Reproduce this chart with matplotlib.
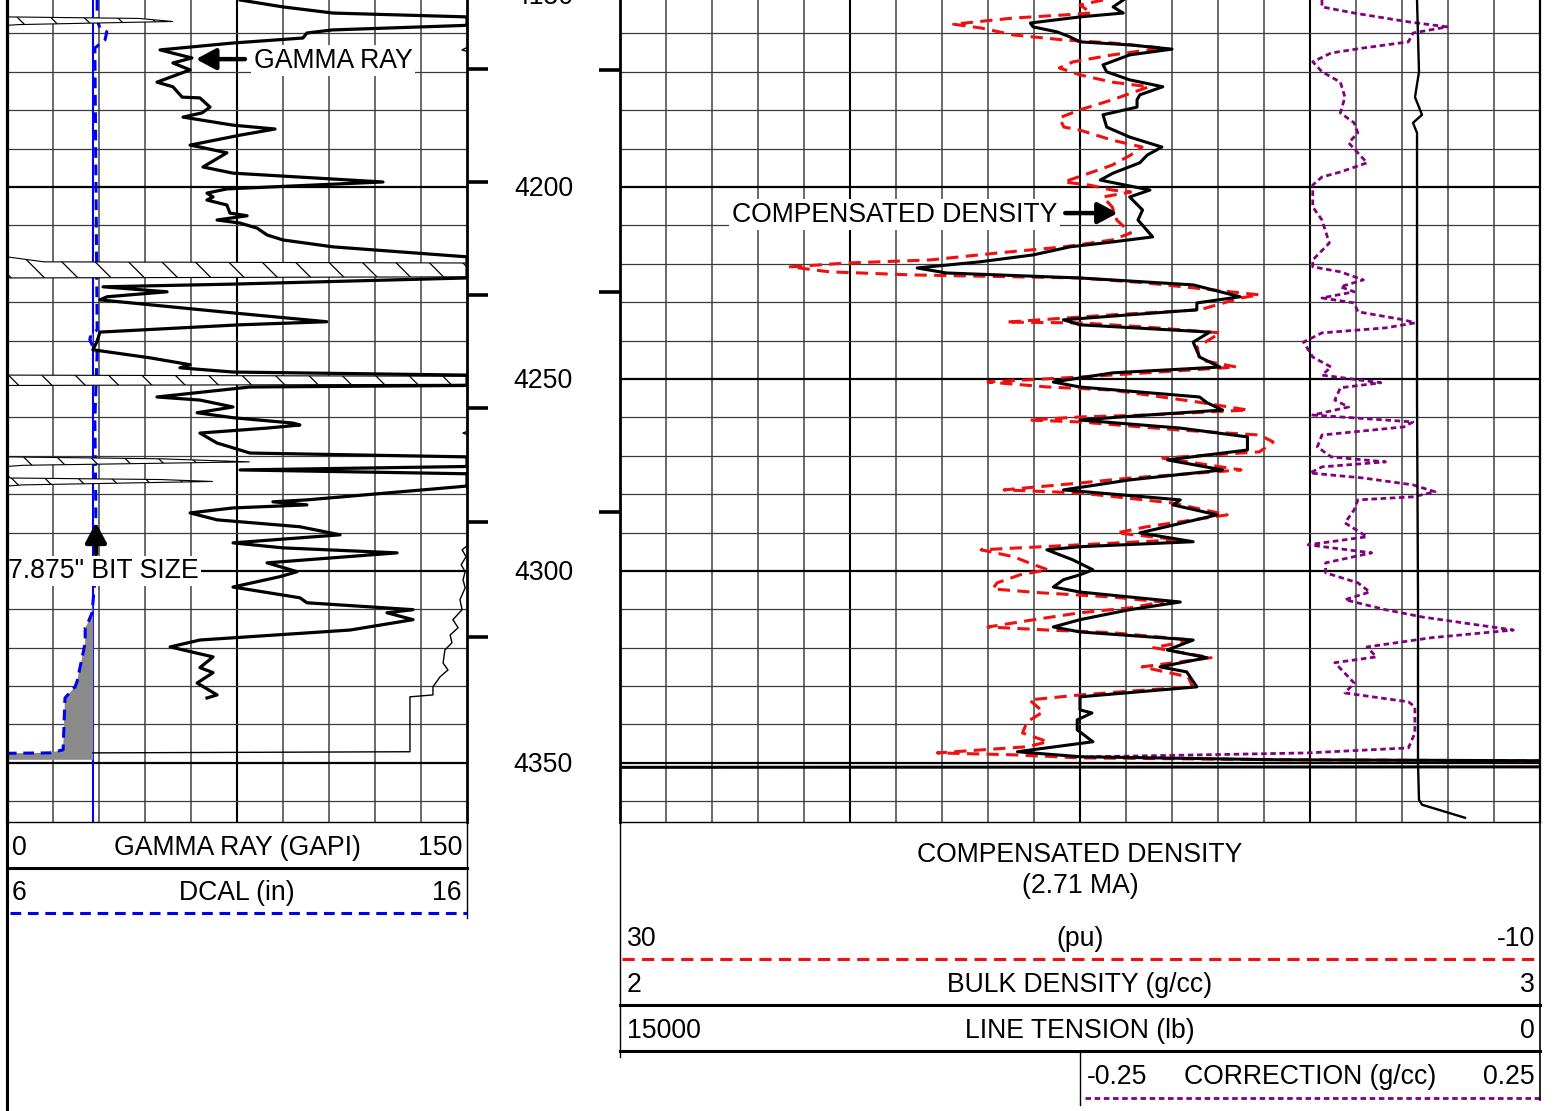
import matplotlib
matplotlib.use('Agg')
import matplotlib.pyplot as plt
import numpy as np

plt.rcParams['font.family'] = ['Liberation Sans', 'DejaVu Sans']
plt.rcParams['hatch.linewidth'] = 0.9
plt.rcParams['hatch.color'] = 'black'
plt.rcParams['lines.solid_joinstyle'] = 'round'
plt.rcParams['lines.dash_joinstyle'] = 'round'

# ---------------- data ----------------
depth_top, depth_bottom = 4151.3, 4365.4
depth_labels = [4150, 4200, 4250, 4300, 4350]
grid_depths = list(range(4160, 4361, 10))

gr_scale = (0, 150)
cal_scale = (6, 16)
nphi_scale = (30, -10)
rhob_scale = (2, 3)
tens_scale = (15000, 0)
corr_scale = (-0.25, 0.25)
bit_size = 7.875

# gamma ray (depth ft, GAPI); values above 150 wrap around
gr_log = [(4151.3, 76.0), (4153.1, 90.0), (4154.7, 106.3), (4155.7, 150), (4156.1, 193), (4156.9, 204),
          (4157.7, 154), (4157.9, 150), (4159.1, 106), (4159.9, 97.8), (4161.2, 96.5), (4162.5, 73.7),
          (4164.3, 49.9), (4166.4, 60.3), (4167.7, 54.1), (4169.5, 59.7), (4172.7, 48.9), (4173.9, 54.1),
          (4176.6, 57.1), (4176.8, 62.9), (4179.2, 66.2), (4180.7, 63.6), (4181.8, 57.4), (4183.9, 73.7),
          (4184.9, 87.4), (4186.5, 76.0), (4189.1, 59.7), (4189.6, 62.9), (4191.1, 71.7), (4194.8, 63.9),
          (4196.4, 73.7), (4198.7, 122.6), (4200.5, 71.7), (4201.6, 65.2), (4202.6, 67.2), (4203.4, 65.2),
          (4204.7, 71.7), (4206.8, 72.7), (4207.5, 78.3), (4208.6, 68.5), (4209.4, 76.0), (4210.7, 81.5),
          (4212.5, 84.8), (4213.8, 90.0), (4215.6, 106.3), (4218.2, 150), (4219.5, 162), (4219.8, 310),
          (4223.4, 310), (4223.7, 150), (4225.3, 73.7), (4226.0, 31.3), (4227.3, 52.2), (4228.6, 32.6),
          (4229.4, 30.3), (4232.8, 73.7), (4235.1, 104.3), (4235.9, 76.0), (4237.8, 30.3), (4240.4, 29.3),
          (4242.4, 28.0), (4244.5, 46.6), (4246.3, 59.7), (4247.1, 56.4), (4248.2, 73.7), (4249.0, 150),
          (4249.3, 310), (4251.4, 310), (4251.7, 150), (4252.1, 79.2), (4254.7, 48.9), (4255.5, 62.9),
          (4257.3, 73.7), (4258.8, 62.0), (4260.1, 73.7), (4261.5, 93.3), (4262.0, 95.5), (4262.8, 84.8),
          (4264.1, 62.9), (4266.7, 68.5), (4267.7, 72.7), (4269.3, 79.2), (4270.3, 150), (4270.8, 200),
          (4271.6, 229), (4272.5, 155), (4272.8, 150), (4273.7, 76), (4274.7, 150), (4275.8, 151),
          (4276.2, 200), (4276.7, 217), (4277.6, 155), (4277.9, 150), (4281.5, 97.8), (4282.0, 86.7),
          (4282.8, 97.8), (4283.6, 73.7), (4284.9, 59.7), (4286.7, 68.5), (4288.5, 95.5), (4290.6, 108.6),
          (4292.7, 73.7), (4294.0, 90.0), (4295.3, 127.2), (4297.9, 84.8), (4300.2, 94.6), (4301.5, 89.0),
          (4304.2, 73.7), (4307.0, 95.5), (4308.3, 97.8), (4310.1, 132.4), (4310.9, 123.9), (4312.7, 132.4),
          (4315.4, 111.9), (4318.0, 62.9), (4319.8, 53.2), (4322.4, 67.2), (4325.2, 62.9), (4326.5, 67.2),
          (4329.2, 62.0), (4332.3, 68.5), (4333.1, 65.2)]

# thin auxiliary curve in the gamma ray track (same scale, mostly off scale)
aux_log = [(4161.7, 155), (4164.3, 148.4), (4165.9, 155), (4262.0, 155), (4264.1, 148.7), (4265.9, 155),
           (4273.2, 155), (4274.5, 149.4), (4275.8, 155), (4293.2, 150.5), (4294.5, 148.4), (4296.3, 149.7),
           (4298.4, 148.1), (4300.2, 149.4), (4302.3, 148.7), (4304.4, 149.4), (4307.5, 147.7), (4310.1, 148.4),
           (4312.7, 145.4), (4314.8, 147.1), (4316.7, 144.5), (4318.7, 145.1), (4320.6, 142.8), (4324.0, 142.2),
           (4325.8, 143.8), (4327.6, 141.2), (4330.2, 138.9), (4332.3, 138.9), (4332.8, 131.4), (4347.1, 131.4),
           (4347.4, 28.0)]

# caliper (depth, in)
cal_log = [(4151.3, 7.96), (4156.5, 7.96), (4158.6, 8.02), (4159.6, 8.17), (4161.7, 8.13), (4163.8, 7.91),
           (4237.2, 7.96), (4238.5, 7.82), (4239.8, 7.80), (4241.9, 7.88), (4243.0, 7.96), (4260.7, 7.91),
           (4281.5, 7.93), (4297.1, 7.93), (4302.3, 7.91), (4310.9, 7.85), (4313.5, 7.76), (4314.8, 7.70),
           (4318.7, 7.70), (4325.0, 7.59), (4328.9, 7.52), (4330.2, 7.48), (4333.1, 7.26), (4346.6, 7.22),
           (4347.4, 6.93), (4347.5, 6.0), (4349.2, 6.0)]

# bulk density (depth, g/cc)
rhob_log = [(4151.3, 2.547), (4153.1, 2.536), (4154.7, 2.547), (4155.7, 2.500), (4157.3, 2.446), (4158.3, 2.449),
            (4159.6, 2.475), (4160.9, 2.489), (4162.2, 2.500), (4163.0, 2.554), (4164.1, 2.600), (4165.6, 2.554),
            (4168.2, 2.525), (4170.0, 2.529), (4172.1, 2.554), (4173.9, 2.590), (4176.0, 2.565), (4177.3, 2.562),
            (4179.2, 2.562), (4181.2, 2.525), (4184.4, 2.529), (4187.0, 2.554), (4189.6, 2.589), (4191.7, 2.573),
            (4193.7, 2.565), (4196.4, 2.536), (4198.2, 2.522), (4200.8, 2.576), (4202.6, 2.554), (4206.0, 2.568),
            (4208.6, 2.563), (4213.0, 2.579), (4214.3, 2.536), (4215.6, 2.489), (4217.7, 2.449), (4219.5, 2.391),
            (4221.1, 2.323), (4222.4, 2.355), (4223.7, 2.500), (4225.5, 2.623), (4228.6, 2.674), (4230.2, 2.627),
            (4232.0, 2.627), (4233.3, 2.554), (4234.6, 2.482), (4235.9, 2.500), (4237.8, 2.641), (4240.4, 2.623),
            (4244.3, 2.630), (4246.9, 2.652), (4248.4, 2.536), (4250.8, 2.471), (4252.1, 2.500), (4254.7, 2.630),
            (4256.2, 2.638), (4258.1, 2.655), (4259.4, 2.573), (4260.7, 2.500), (4262.8, 2.609), (4265.1, 2.682),
            (4268.5, 2.682), (4271.1, 2.595), (4273.7, 2.655), (4276.3, 2.554), (4278.9, 2.482), (4281.5, 2.609),
            (4282.8, 2.601), (4285.4, 2.649), (4290.1, 2.565), (4292.4, 2.623), (4293.7, 2.500), (4294.5, 2.464),
            (4297.1, 2.492), (4299.7, 2.514), (4301.0, 2.500), (4302.3, 2.482), (4304.2, 2.471), (4305.5, 2.500),
            (4308.1, 2.609), (4310.1, 2.554), (4312.7, 2.500), (4314.6, 2.471), (4315.9, 2.500), (4318.0, 2.623),
            (4320.6, 2.595), (4322.6, 2.638), (4325.0, 2.587), (4326.3, 2.616), (4330.2, 2.627), (4332.8, 2.500),
            (4336.2, 2.500), (4337.0, 2.513), (4338.8, 2.497), (4341.4, 2.497), (4344.5, 2.514), (4347.1, 2.432),
            (4348.4, 2.500), (4349.2, 2.717), (4349.7, 3.300), (4351.0, 3.300), (4351.2, 1.700)]

# neutron porosity, limestone-matrix (depth, pu)
nphi_log = [(4151.3, 9.0), (4152.6, 10.0), (4154.7, 9.5), (4155.2, 10.7), (4156.0, 12.9), (4157.6, 15.5),
            (4158.6, 14.3), (4160.4, 12.9), (4161.7, 10.7), (4162.5, 8.6), (4163.8, 6.4), (4165.6, 8.6),
            (4167.4, 10.3), (4169.0, 10.9), (4170.8, 10.0), (4172.7, 8.6), (4173.9, 7.0), (4177.3, 8.6),
            (4179.9, 10.0), (4182.0, 10.9), (4184.4, 10.7), (4185.2, 10.0), (4187.8, 8.6), (4189.6, 7.3),
            (4191.7, 7.8), (4194.3, 8.6), (4196.4, 9.6), (4198.7, 10.7), (4199.5, 9.6), (4200.8, 8.6),
            (4201.3, 7.8), (4202.6, 9.0), (4205.2, 8.6), (4208.6, 8.4), (4212.0, 7.8), (4213.8, 8.6),
            (4215.6, 10.7), (4217.2, 13.6), (4219.0, 16.5), (4219.8, 20.1), (4220.8, 22.6), (4222.1, 20.9),
            (4222.9, 17.3), (4223.4, 12.9), (4223.7, 10.0), (4225.0, 7.1), (4228.1, 2.2), (4228.9, 3.0),
            (4232.0, 4.8), (4233.3, 8.6), (4235.2, 13.2), (4235.4, 10.0), (4236.5, 7.1), (4238.0, 3.9),
            (4241.7, 4.9), (4245.0, 4.8), (4246.9, 3.2), (4248.4, 7.1), (4249.5, 10.0), (4250.8, 14.0),
            (4252.1, 11.4), (4252.9, 8.6), (4256.0, 4.9), (4258.1, 2.7), (4259.4, 7.1), (4259.9, 10.0),
            (4260.7, 12.2), (4261.2, 10.0), (4263.3, 5.7), (4264.6, 2.2), (4266.4, 1.6), (4269.0, 2.2),
            (4270.6, 6.4), (4273.7, 3.0), (4275.8, 7.8), (4277.1, 10.0), (4278.9, 13.3), (4279.7, 10.0),
            (4282.3, 6.0), (4285.4, 3.6), (4288.5, 7.1), (4290.1, 8.4), (4291.9, 5.7), (4293.2, 10.0),
            (4294.5, 14.3), (4296.3, 12.9), (4298.4, 12.0), (4299.7, 11.4), (4301.0, 12.6), (4303.1, 13.6),
            (4304.7, 13.8), (4305.7, 11.7), (4306.8, 8.6), (4308.1, 6.4), (4309.6, 7.8), (4310.9, 10.0),
            (4312.7, 12.0), (4314.6, 14.0), (4315.4, 11.4), (4316.1, 8.6), (4318.0, 5.1), (4320.0, 6.8),
            (4322.6, 4.3), (4325.0, 7.3), (4327.6, 5.3), (4330.2, 5.1), (4331.0, 7.1), (4332.3, 10.0),
            (4333.6, 12.2), (4336.7, 11.6), (4339.3, 12.3), (4342.2, 12.5), (4344.5, 11.4), (4345.8, 12.3),
            (4347.4, 16.2), (4347.9, 12.9), (4348.7, 10.0), (4349.2, 0.9), (4349.5, -10.9)]

# density correction (depth, g/cc)
corr_log = [(4151.3, 0.013), (4153.1, 0.013), (4154.7, 0.048), (4157.0, 0.107), (4158.3, 0.149), (4159.9, 0.112),
            (4162.2, 0.107), (4163.8, 0.058), (4165.1, 0.023), (4167.4, 0.003), (4170.0, 0.013), (4172.7, 0.033),
            (4176.6, 0.038), (4180.7, 0.033), (4183.3, 0.048), (4185.9, 0.052), (4188.5, 0.042), (4193.7, 0.062),
            (4196.1, 0.033), (4197.4, 0.013), (4199.5, 0.003), (4205.2, 0.003), (4208.6, 0.013), (4214.6, 0.021),
            (4219.0, 0.003), (4220.8, 0.003), (4222.1, 0.033), (4224.2, 0.058), (4226.0, 0.033), (4227.3, 0.048),
            (4228.9, 0.013), (4230.2, 0.048), (4232.5, 0.052), (4234.6, 0.102), (4235.4, 0.114), (4236.7, 0.082),
            (4238.0, 0.013), (4240.4, -0.007), (4244.3, 0.003), (4246.9, 0.023), (4249.0, 0.013), (4251.0, 0.077),
            (4252.3, 0.033), (4255.5, 0.027), (4257.3, 0.042), (4259.4, 0.003), (4261.2, 0.112), (4262.5, 0.102),
            (4264.6, 0.013), (4267.7, 0.008), (4270.3, 0.023), (4271.6, 0.082), (4272.9, 0.013), (4274.5, 0.0),
            (4275.8, 0.058), (4277.6, 0.112), (4279.4, 0.136), (4280.7, 0.112), (4281.5, 0.052), (4284.1, 0.048),
            (4287.5, 0.038), (4291.1, 0.062), (4293.2, -0.002), (4295.3, 0.067), (4297.9, 0.017), (4300.5, 0.017),
            (4303.1, 0.052), (4305.5, 0.065), (4307.5, 0.038), (4310.1, 0.082), (4312.0, 0.122), (4315.4, 0.221),
            (4317.4, 0.132), (4319.8, 0.062), (4322.4, 0.072), (4323.9, 0.027), (4329.2, 0.048), (4331.8, 0.038),
            (4334.1, 0.107), (4335.4, 0.114), (4342.2, 0.114), (4346.1, 0.107), (4347.4, -0.002), (4347.9, -0.115),
            (4348.4, -0.239)]

# line tension (depth, lb)
tens_log = [(4151.3, 2005), (4170.0, 1973), (4176.6, 2038), (4181.2, 1924), (4183.3, 2071), (4185.9, 2005),
            (4212.0, 2005), (4255.5, 2005), (4307.5, 1989), (4350.0, 1989), (4359.6, 1973), (4360.9, 1924),
            (4364.3, 1223)]

# tick marks in the depth track
marks_left = [4169.3, 4198.7, 4228.1, 4257.5, 4287.2, 4317.2]
marks_right = [4169.5, 4227.3, 4284.6]


def unzip(log):
    a = np.array(log, dtype=float)
    return a[:, 0], a[:, 1]


gr_d, gr_v = unzip(gr_log)
aux_d, aux_v = unzip(aux_log)
cal_d, cal_v = unzip(cal_log)
rhob_d, rhob_v = unzip(rhob_log)
nphi_d, nphi_v = unzip(nphi_log)
corr_d, corr_v = unzip(corr_log)
tens_d, tens_v = unzip(tens_log)

# ---------------- figure ----------------
W, H = 1554, 1111
TRACK_Y1 = 822
fig = plt.figure(figsize=(W / 100, H / 100), dpi=100)
FS = 19.2
RED = '#f01010'
PURPLE = '#800080'
BLUE = '#0000ee'
TXT_DY = 2  # px, optical centring of caps text


def make_ax(x0, x1, xlim, base=False):
    ax = fig.add_axes([x0 / W, 1 - TRACK_Y1 / H, (x1 - x0) / W, TRACK_Y1 / H])
    ax.set_xlim(*xlim)
    ax.set_ylim(depth_bottom, depth_top)
    ax.set_xticks([])
    ax.set_yticks([])
    for s in ax.spines.values():
        s.set_visible(False)
    if not base:
        ax.patch.set_visible(False)
    return ax


def draw_grid(ax, ndiv, major_every):
    for i in range(1, ndiv):
        major = (i % major_every == 0)
        ax.axvline(i / ndiv, color='black' if major else '#6a6a6a',
                   lw=1.5 if major else 1.4, zorder=1)
    for d in grid_depths:
        major = (d % 50 == 0)
        ax.axhline(d, color='black' if major else '#3a3a3a',
                   lw=1.6 if major else 0.9, zorder=1)


def frame(ax, left, right, bottom):
    for name, lw in (('left', left), ('right', right), ('bottom', bottom)):
        sp = ax.spines[name]
        sp.set_visible(True)
        sp.set_linewidth(lw)
        sp.set_zorder(10)


ARROW = dict(arrowstyle='-|>,head_length=0.6,head_width=0.32', lw=3.2,
             color='black', shrinkA=0, shrinkB=0, mutation_scale=20)

# ---- left track: gamma ray + caliper ----
axL0 = make_ax(7, 467, (0, 1), base=True)
draw_grid(axL0, 10, 5)

axC = make_ax(7, 467, cal_scale)
axC.axvline(bit_size, color='#0000ff', lw=1.5, zorder=2)
axC.fill_betweenx(cal_d, cal_v, bit_size, where=cal_v < bit_size, interpolate=True,
                  color='#8a8a8a', lw=0, zorder=2)
axC.plot(cal_v, cal_d, color=BLUE, lw=2.2, dashes=(3.5, 2.2), zorder=3)

axG = make_ax(7, 467, gr_scale)
wrap = np.clip(gr_v - gr_scale[1], 0, gr_scale[1])
axG.fill_betweenx(gr_d, 0, wrap, facecolor='white', edgecolor='black', hatch='\\',
                  lw=0.8, zorder=2)
axG.plot(aux_v, aux_d, color='black', lw=1.0, zorder=3)
axG.plot(np.minimum(gr_v, gr_scale[1]), gr_d, color='black', lw=2.3, zorder=4)
frame(axG, 2.3, 2.0, 1.0)

axG.annotate('', xy=(61.6, 4166.7), xytext=(77.6, 4166.7), arrowprops=ARROW, zorder=6)
axG.text(80.5, 4167.1, 'GAMMA RAY', ha='left', va='center', fontsize=FS, zorder=6,
         bbox=dict(facecolor='white', edgecolor='none', pad=2))
axG.annotate('', xy=(29.0, 4287.4), xytext=(29.0, 4295.6), arrowprops=ARROW, zorder=6)
axG.text(0.4, 4300.1, '7.875" BIT SIZE', ha='left', va='center', fontsize=FS, zorder=6,
         bbox=dict(facecolor='white', edgecolor='none', pad=1.5))

# ---- depth track ----
axD = make_ax(467, 620, (0, 1))
for d in depth_labels:
    axD.text(0.5, d + 0.5, str(d), ha='center', va='center', fontsize=FS, clip_on=False)
for d in marks_left:
    axD.plot([0, 0.14], [d, d], color='black', lw=2.6, solid_capstyle='butt')
for d in marks_right:
    axD.plot([0.86, 1.0], [d, d], color='black', lw=2.6, solid_capstyle='butt')

# ---- right track: density, neutron, tension, correction ----
axR0 = make_ax(620, 1540, (0, 1), base=True)
draw_grid(axR0, 20, 5)

axK = make_ax(620, 1540, (2 * corr_scale[0] - corr_scale[1], corr_scale[1]))
axK.plot(corr_v, corr_d, color=PURPLE, lw=2.0, dashes=(2.0, 1.3), zorder=3)

axT = make_ax(620, 1540, tens_scale)
axT.plot(tens_v, tens_d, color='black', lw=1.7, zorder=3)

axN = make_ax(620, 1540, nphi_scale)
axN.plot(nphi_v, nphi_d, color=RED, lw=2.2, dashes=(4.0, 2.4), zorder=3)

axB = make_ax(620, 1540, rhob_scale)
axB.plot(rhob_v, rhob_d, color='black', lw=2.2, zorder=4)
frame(axB, 2.0, 1.6, 1.0)

axB.annotate('', xy=(2.541, 4206.8), xytext=(2.484, 4206.8), arrowprops=ARROW, zorder=6)
axB.text(2.475, 4207.2, 'COMPENSATED DENSITY', ha='right', va='center', fontsize=FS, zorder=6,
         bbox=dict(facecolor='white', edgecolor='none', pad=2))

# ---- header (scales) ----
axH = fig.add_axes([0, 0, 1, 1])
axH.set_xlim(0, W)
axH.set_ylim(H, 0)
axH.axis('off')
axH.patch.set_visible(False)


def fmt(v):
    return f'{v:g}'


def hline(x0, x1, y, **kw):
    axH.plot([x0, x1], [y, y], **kw)


def vline(x, y0, y1, **kw):
    axH.plot([x, x], [y0, y1], **kw)


def htext(x, y, s, ha):
    axH.text(x, y + TXT_DY, s, ha=ha, va='center', fontsize=FS)


def scale_row(y, xl, xc, xr, lo, hi, title):
    htext(xl, y, fmt(lo), 'left')
    htext(xc, y, title, 'center')
    htext(xr, y, fmt(hi), 'right')


vline(7, TRACK_Y1, H, color='black', lw=2.2)
scale_row(846, 12, 237, 462, gr_scale[0], gr_scale[1], 'GAMMA RAY (GAPI)')
hline(7, 467, 868, color='black', lw=2.2)
scale_row(891, 12, 237, 462, cal_scale[0], cal_scale[1], 'DCAL (in)')
hline(10, 467, 913, color=BLUE, lw=2.2, dashes=(3.5, 2.2))
vline(467, TRACK_Y1, 918, color='black', lw=1.0)

htext(1080, 853, 'COMPENSATED DENSITY', 'center')
htext(1080, 884, '(2.71 MA)', 'center')
scale_row(937, 627, 1080, 1535, nphi_scale[0], nphi_scale[1], '(pu)')
hline(622, 1540, 959, color=RED, lw=2.2, dashes=(4.0, 2.4))
scale_row(983, 627, 1080, 1535, rhob_scale[0], rhob_scale[1], 'BULK DENSITY (g/cc)')
hline(620, 1540, 1005, color='black', lw=2.2)
scale_row(1029, 627, 1080, 1535, tens_scale[0], tens_scale[1], 'LINE TENSION (lb)')
hline(620, 1540, 1051, color='black', lw=2.2)
scale_row(1075, 1087, 1310, 1535, corr_scale[0], corr_scale[1], 'CORRECTION (g/cc)')
hline(1085, 1540, 1098, color=PURPLE, lw=2.0, dashes=(2.0, 1.3))
vline(620, TRACK_Y1, 1057, color='black', lw=1.0)
vline(1080, 1051, 1105, color='black', lw=1.0)
vline(1540, TRACK_Y1, 1100, color='black', lw=1.2)

fig.savefig('out.png', dpi=100)
